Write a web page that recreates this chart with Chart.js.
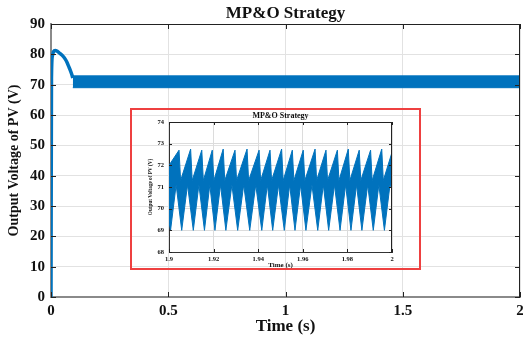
<!DOCTYPE html>
<html>
<head>
<meta charset="utf-8">
<script src="https://cdn.jsdelivr.net/npm/chart.js@4.4.1/dist/chart.umd.min.js"></script>
<style>
  html, body { margin: 0; padding: 0; background: #fff; }
  #wrap { position: relative; width: 523px; height: 341px; overflow: hidden; }
  #mainChart { position: absolute; left: 0; top: 0; }
  #insetChart { position: absolute; left: 131px; top: 109px; }
  #insetBox { position: absolute; left: 130px; top: 108px; width: 291px; height: 162px;
    box-sizing: border-box; border: 2px solid rgb(238, 64, 64); pointer-events: none; }
</style>
</head>
<body>
<div id="wrap">
  <canvas id="mainChart" width="523" height="341"></canvas>
  <canvas id="insetChart" width="289" height="160"></canvas>
  <div id="insetBox"></div>
</div>
<script>
// main plot: start-up transient, then the switching band
const startT = [0, 0.002, 0.006, 0.011, 0.018, 0.027, 0.038, 0.05, 0.06, 0.068, 0.075, 0.082, 0.088, 0.093];
const startV = [0, 72, 79.5, 80.9, 81.3, 81.0, 80.3, 79.5, 78.5, 77.4, 76.1, 74.8, 73.5, 72.2];
const bandT = [0.093, 2];
const bandHigh = [72.9, 72.9];
const bandLow = [69.0, 69.0];
const mainXTicks = [0, 0.5, 1, 1.5, 2];
const mainYTicks = [0, 10, 20, 30, 40, 50, 60, 70, 80, 90];

// inset (1.9 s .. 2 s): upper and lower envelope of the ripple
const insetUpT = [1.9, 1.9045, 1.9052, 1.9097, 1.9104, 1.9147, 1.9154, 1.9194, 1.9201, 1.9243, 1.9250,
  1.9296, 1.9303, 1.9350, 1.9357, 1.9404, 1.9411, 1.9453, 1.9460, 1.9505, 1.9512, 1.9553, 1.9560,
  1.9602, 1.9609, 1.9655, 1.9662, 1.9704, 1.9711, 1.9755, 1.9762, 1.9804, 1.9811, 1.9853, 1.9860,
  1.9904, 1.9911, 1.9954, 1.9961, 2.0];
const insetUpV = [72.0, 72.7, 71.3, 72.75, 71.3, 72.7, 71.3, 72.7, 71.3, 72.75, 71.3,
  72.7, 71.3, 72.75, 71.3, 72.7, 71.3, 72.7, 71.3, 72.75, 71.3, 72.7, 71.3,
  72.7, 71.3, 72.75, 71.3, 72.7, 71.3, 72.7, 71.3, 72.75, 71.3, 72.7, 71.3,
  72.7, 71.3, 72.75, 71.3, 72.6];
const insetLowT = [1.9, 1.9007, 1.9032, 1.9057, 1.9083, 1.9109, 1.9134, 1.9159, 1.9183, 1.9206, 1.9231,
  1.9255, 1.9282, 1.9308, 1.9335, 1.9362, 1.9389, 1.9416, 1.9441, 1.9465, 1.9491, 1.9517, 1.9541,
  1.9565, 1.9590, 1.9614, 1.9641, 1.9667, 1.9692, 1.9716, 1.9742, 1.9767, 1.9792, 1.9816, 1.9841,
  1.9865, 1.9891, 1.9916, 1.9941, 1.9966, 1.9991, 2.0];
const insetLowV = [69.4, 69.0, 71.1, 69.0, 71.1, 69.0, 71.1, 69.0, 71.1, 69.0, 71.1,
  69.0, 71.1, 69.0, 71.1, 69.0, 71.1, 69.0, 71.1, 69.0, 71.1, 69.0, 71.1,
  69.0, 71.1, 69.0, 71.1, 69.0, 71.1, 69.0, 71.1, 69.0, 71.1, 69.0, 71.1,
  69.0, 71.1, 69.0, 71.1, 69.0, 71.1, 70.9];
const insetXTicks = [1.9, 1.92, 1.94, 1.96, 1.98, 2];
const insetYTicks = [68, 69, 70, 71, 72, 73, 74];

const blue = '#0072BD';
const serif = "'Liberation Serif', 'Times New Roman', serif";
const txt = '#111';

function pts(xs, ys) {
  return xs.map((x, i) => ({ x: x, y: ys[i] }));
}

// matlab style box: top/right border and inward tick marks
const boxTicks = {
  id: 'boxTicks',
  afterDatasetsDraw(chart, args, opts) {
    const { ctx, chartArea: a, scales } = chart;
    const len = opts.len || 5;
    ctx.save();
    ctx.strokeStyle = '#222';
    ctx.lineWidth = 1;
    ctx.beginPath();
    ctx.moveTo(a.left, a.top + 0.5); ctx.lineTo(a.right, a.top + 0.5);
    ctx.moveTo(a.right - 0.5, a.top); ctx.lineTo(a.right - 0.5, a.bottom);
    scales.x.ticks.forEach(t => {
      const px = Math.round(scales.x.getPixelForValue(t.value)) + 0.5;
      ctx.moveTo(px, a.bottom); ctx.lineTo(px, a.bottom - len);
      ctx.moveTo(px, a.top); ctx.lineTo(px, a.top + len);
    });
    scales.y.ticks.forEach(t => {
      const py = Math.round(scales.y.getPixelForValue(t.value)) + 0.5;
      ctx.moveTo(a.left, py); ctx.lineTo(a.left + len, py);
      ctx.moveTo(a.right, py); ctx.lineTo(a.right - len, py);
    });
    ctx.stroke();
    ctx.restore();
  }
};

new Chart(document.getElementById('mainChart'), {
  type: 'line',
  data: {
    datasets: [{
      data: pts(startT, startV),
      borderColor: blue,
      borderWidth: 3.5,
      pointRadius: 0,
      cubicInterpolationMode: 'monotone',
      fill: false
    }, {
      data: pts(bandT, bandHigh),
      borderColor: blue,
      borderWidth: 1,
      pointRadius: 0,
      fill: false
    }, {
      data: pts(bandT, bandLow),
      borderColor: blue,
      backgroundColor: blue,
      borderWidth: 1,
      pointRadius: 0,
      fill: '-1'
    }]
  },
  options: {
    responsive: false,
    animation: false,
    devicePixelRatio: 1,
    layout: { padding: { left: 0, right: 3, top: 0, bottom: 0 } },
    plugins: {
      legend: { display: false },
      tooltip: { enabled: false },
      title: {
        display: true,
        text: 'MP&O Strategy',
        fullSize: false,
        color: txt,
        font: { family: serif, size: 17, weight: 'bold' },
        padding: { top: 3, bottom: 0.6 }
      },
      boxTicks: { len: 5 }
    },
    scales: {
      x: {
        type: 'linear',
        min: 0,
        max: 2,
        afterBuildTicks: s => { s.ticks = mainXTicks.map(v => ({ value: v })); },
        afterFit: s => { s.height = 44; s.paddingLeft = 0; s.paddingRight = 0; },
        grid: { color: '#e2e2e2', lineWidth: 1, drawTicks: false },
        border: { color: '#8a8a8a', width: 2 },
        ticks: {
          color: txt,
          padding: 5,
          maxRotation: 0,
          font: { family: serif, size: 15, weight: 'bold' },
          callback: v => String(v)
        },
        title: {
          display: true,
          text: 'Time (s)',
          color: txt,
          font: { family: serif, size: 17, weight: 'bold' },
          padding: { top: 0, bottom: 4.3 }
        }
      },
      y: {
        type: 'linear',
        min: 0,
        max: 90,
        afterBuildTicks: s => { s.ticks = mainYTicks.map(v => ({ value: v })); },
        afterFit: s => { s.width = 51; s.paddingTop = 0; s.paddingBottom = 0; },
        grid: { color: '#e2e2e2', lineWidth: 1, drawTicks: false },
        border: { color: '#8a8a8a', width: 2 },
        ticks: {
          color: txt,
          padding: 6,
          font: { family: serif, size: 15, weight: 'bold' },
          callback: v => String(v)
        },
        title: {
          display: true,
          text: 'Output Voltage of PV (V)',
          color: txt,
          font: { family: serif, size: 14, weight: 'bold' },
          padding: { top: 5.6, bottom: 0 }
        }
      }
    }
  },
  plugins: [boxTicks]
});

new Chart(document.getElementById('insetChart'), {
  type: 'line',
  data: {
    datasets: [{
      data: pts(insetUpT, insetUpV),
      borderColor: blue,
      borderWidth: 1,
      pointRadius: 0,
      fill: false
    }, {
      data: pts(insetLowT, insetLowV),
      borderColor: blue,
      backgroundColor: blue,
      borderWidth: 1,
      pointRadius: 0,
      fill: '-1'
    }]
  },
  options: {
    responsive: false,
    animation: false,
    devicePixelRatio: 1,
    layout: { padding: { left: 0, right: 28, top: 0, bottom: 0 } },
    plugins: {
      legend: { display: false },
      tooltip: { enabled: false },
      title: {
        display: true,
        text: 'MP&O Strategy',
        fullSize: false,
        color: txt,
        font: { family: serif, size: 8, weight: 'bold' },
        padding: { top: 2, bottom: 1.4 }
      },
      boxTicks: { len: 3 }
    },
    scales: {
      x: {
        type: 'linear',
        min: 1.9,
        max: 2,
        afterBuildTicks: s => { s.ticks = insetXTicks.map(v => ({ value: v })); },
        afterFit: s => { s.height = 17; s.paddingLeft = 0; s.paddingRight = 0; },
        grid: { color: '#dcdcdc', lineWidth: 1, drawTicks: false },
        border: { color: '#333', width: 1 },
        ticks: {
          color: txt,
          padding: 3,
          maxRotation: 0,
          font: { family: serif, size: 6.5, weight: 'bold' },
          callback: v => String(v)
        },
        title: {
          display: true,
          text: 'Time (s)',
          color: txt,
          font: { family: serif, size: 7, weight: 'bold' },
          padding: { top: 0, bottom: 0 }
        }
      },
      y: {
        type: 'linear',
        min: 68,
        max: 74,
        afterBuildTicks: s => { s.ticks = insetYTicks.map(v => ({ value: v })); },
        afterFit: s => { s.width = 38; s.paddingTop = 0; s.paddingBottom = 0; },
        grid: { color: '#dcdcdc', lineWidth: 1, drawTicks: false },
        border: { color: '#333', width: 1 },
        ticks: {
          color: txt,
          padding: 5,
          font: { family: serif, size: 6.5, weight: 'bold' },
          callback: v => String(v)
        },
        title: {
          display: true,
          text: 'Output Voltage of PV (V)',
          color: txt,
          font: { family: serif, size: 5.2, weight: 'bold' },
          padding: { top: 16.9, bottom: 0 }
        }
      }
    }
  },
  plugins: [boxTicks]
});
</script>
</body>
</html>
